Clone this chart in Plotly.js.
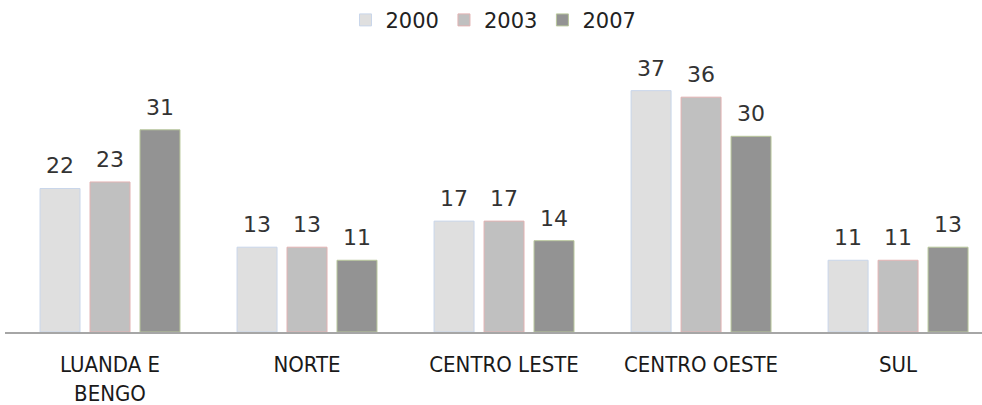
<!DOCTYPE html>
<html>
<head>
<meta charset="utf-8">
<script src="https://cdn.plot.ly/plotly-3.0.1.min.js"></script>
<style>html,body{margin:0;padding:0;background:#fff;overflow:hidden}#chart{width:982px;height:405px}</style>
</head>
<body>
<div id="chart"></div>
<script>
const categories = ["LUANDA E<br>BENGO", "NORTE", "CENTRO LESTE", "CENTRO OESTE", "SUL"];
const seriesNames = ["2000", "2003", "2007"];
const values2000 = [22, 13, 17, 37, 11];
const values2003 = [23, 13, 17, 36, 11];
const values2007 = [31, 11, 14, 30, 13];
const fillColors = ["#dfdfdf", "#c0c0c0", "#939393"];
const edgeColors = ["#c9d6ea", "#e2b2b2", "#b9c79c"];

const FONT_COND = "DejaVu Sans Condensed, Liberation Sans Narrow, Liberation Sans, Arial, sans-serif";
const FONT = "DejaVu Sans, Liberation Sans, Arial, sans-serif";
const allValues = [values2000, values2003, values2007];

const W = 982, H = 405;
const margin = {l: 5, r: 0, t: 40, b: 73};
const xRange = [-0.533, 4.426];
const bargap = 0.239, bargroupgap = 0.2;

const data = allValues.map((vals, i) => ({
  type: "bar",
  name: seriesNames[i],
  x: categories,
  y: vals,
  marker: {color: fillColors[i], line: {color: edgeColors[i], width: 1}},
  hoverinfo: "x+y+name"
}));

// value labels as annotations anchored to each bar's category and value
const pxPerCat = (W - margin.l - margin.r) / (xRange[1] - xRange[0]);
const slotPx = pxPerCat * (1 - bargap) / allValues.length;
const annotations = [];
allValues.forEach((vals, i) => {
  vals.forEach((v, j) => {
    annotations.push({
      x: j, y: v, xref: "x", yref: "y",
      text: String(v), showarrow: false,
      xanchor: "center", yanchor: "bottom",
      xshift: (i - (allValues.length - 1) / 2) * slotPx,
      yshift: 8,
      font: {family: FONT, size: 22, color: "#333"}
    });
  });
});

const layout = {
  width: W, height: H,
  margin: margin,
  paper_bgcolor: "#fff", plot_bgcolor: "#fff",
  barmode: "group",
  bargap: bargap,
  bargroupgap: bargroupgap,
  showlegend: true,
  legend: {
    orientation: "h", x: 0.5, xanchor: "center",
    yref: "container", y: 0.95, yanchor: "middle",
    font: {family: FONT, size: 21, color: "#222"},
    itemwidth: 30, traceorder: "normal"
  },
  annotations: annotations,
  xaxis: {
    type: "category",
    range: xRange,
    showgrid: false, zeroline: false,
    showline: true, linecolor: "#a6a6a6", linewidth: 2,
    ticks: "", ticklen: 0,
    ticklabelstandoff: 12,
    tickfont: {family: FONT_COND, size: 22, color: "#1a1a1a"},
    automargin: false
  },
  yaxis: {
    range: [0, 44.65],
    showgrid: false, zeroline: false, showline: false,
    showticklabels: false, ticks: "",
    automargin: false
  }
};

Plotly.newPlot("chart", data, layout, {displayModeBar: false, staticPlot: true});
</script>
</body>
</html>
